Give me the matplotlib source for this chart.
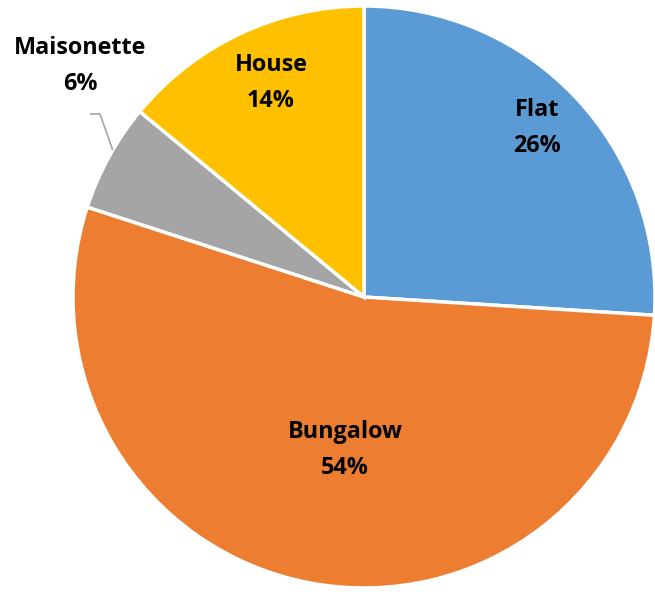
import matplotlib
matplotlib.use("Agg")
import matplotlib.pyplot as plt
import numpy as np

# Dwelling types and their share (%)
categories = ["Flat", "Bungalow", "Maisonette", "House"]
shares = [26, 54, 6, 14]
colors = ["#5B9BD5", "#ED7D31", "#A5A5A5", "#FFC000"]

W, H = 655, 592
fig = plt.figure(figsize=(W / 100, H / 100), dpi=100)
ax = fig.add_axes([0, 0, 1, 1])

cx, cy, R = 364, H - 297, 291
wedges, _ = ax.pie(shares, colors=colors, startangle=90, counterclock=False,
                   center=(cx, cy), radius=R, frame=True,
                   wedgeprops=dict(edgecolor="white", linewidth=2.5))
ax.set_xlim(0, W)
ax.set_ylim(0, H)
ax.set_aspect("equal")
ax.axis("off")

font = dict(family=["Open Sans", "DejaVu Sans"], fontsize=16.8, fontweight="bold",
            color="black", ha="center", va="center", linespacing=1.7)

# label anchors in pixel space (x from left, y from top)
label_xy = {"Flat": (537, 128), "Bungalow": (345, 450),
            "Maisonette": (80, 66), "House": (271, 83)}

for w, name, val in zip(wedges, categories, shares):
    lx, ly = label_xy[name]
    ax.text(lx, H - ly, f"{name}\n{val}%", **font)
    if name == "Maisonette":
        edge = np.deg2rad((w.theta1 + w.theta2) / 2 - 1.5)
        ex, ey = cx + R * np.cos(edge), cy + R * np.sin(edge)
        ax.plot([lx + 10, lx + 20, ex], [H - 114, H - 114, ey],
                color="#A5A5A5", lw=1.2, solid_capstyle="butt")

fig.savefig("out.png", dpi=100)
